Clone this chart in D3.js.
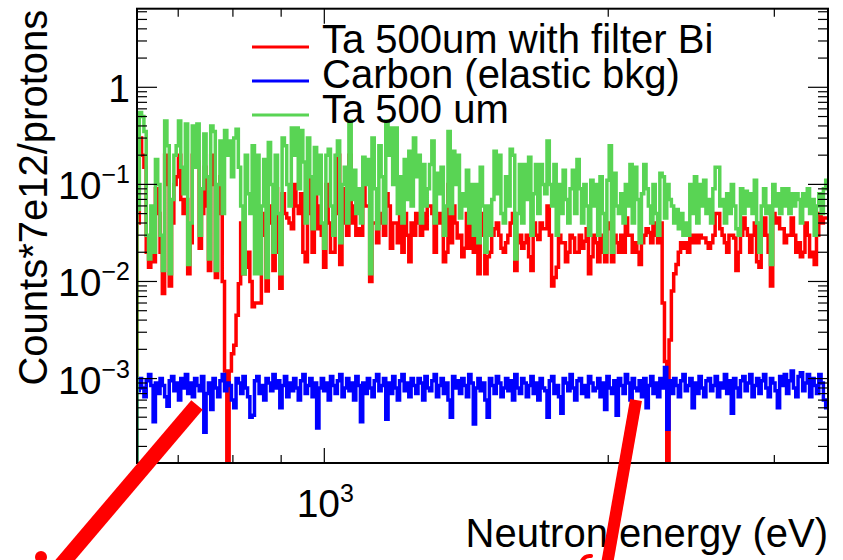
<!DOCTYPE html>
<html>
<head>
<meta charset="utf-8">
<script src="https://cdn.jsdelivr.net/npm/d3@7/dist/d3.min.js"></script>
<style>
  html, body { margin: 0; padding: 0; background: #ffffff; }
  svg { display: block; }
  text { font-family: "Liberation Sans", Arial, Helvetica, sans-serif; fill: #000; }
</style>
</head>
<body>
<div id="chart"></div>
<script>
// ---------------- DATA ----------------
const energyRange = [633, 3420];           // eV, histogram range shown
const yRange = [1.35e-4, 6.45];            // counts axis range

const seriesNames = ["Ta 500um with filter Bi", "Carbon (elastic bkg)", "Ta 500 um"];

// Ta 500um with filter Bi (red), 300 log-spaced bins
const taBi = [
  0.04,0.3,0.2,0.15,0.02,0.014,0.03,0.016,0.09,0.05,
  0.02,0.0075,0.2,0.1,0.009,0.04,0.1,0.12,0.2,0.07,
  0.05,0.07,0.012,0.025,0.2,0.17,0.17,0.022,0.05,0.15,
  0.06,0.013,0.2,0.1,0.011,0.05,0.12,0.01,0.0012,0,
  0.0012,0.0018,0.0022,0.0045,0.0095,0.04,0.012,0.014,0.02,0.01,
  0.0055,0.006,0.006,0.006,0.03,0.05,0.008,0.06,0.04,0.013,
  0.09,0.02,0.0085,0.08,0.05,0.045,0.04,0.035,0.1,0.06,
  0.05,0.08,0.02,0.016,0.12,0.05,0.02,0.1,0.035,0.06,
  0.03,0.014,0.1,0.04,0.02,0.02,0.05,0.2,0.015,0.04,
  0.09,0.03,0.2,0.04,0.06,0.03,0.035,0.03,0.1,0.06,
  0.06,0.01,0.04,0.04,0.025,0.04,0.05,0.03,0.08,0.06,
  0.022,0.04,0.04,0.025,0.06,0.02,0.05,0.03,0.016,0.04,
  0.03,0.05,0.04,0.03,0.05,0.035,0.06,0.06,0.05,0.02,
  0.05,0.04,0.05,0.016,0.02,0.1,0.025,0.06,0.04,0.028,
  0.03,0.018,0.022,0.05,0.022,0.04,0.02,0.04,0.012,0.05,
  0.03,0.012,0.018,0.02,0.03,0.035,0.04,0.03,0.022,0.02,
  0.025,0.03,0.04,0.05,0.013,0.025,0.03,0.022,0.025,0.03,
  0.018,0.013,0.04,0.03,0.027,0.04,0.035,0.035,0.06,0.03,
  0.009,0.011,0.014,0.03,0.025,0.025,0.016,0.02,0.03,0.028,
  0.02,0.02,0.03,0.022,0.026,0.035,0.012,0.018,0.03,0.025,
  0.016,0.03,0.02,0.016,0.035,0.04,0.016,0.03,0.025,0.02,
  0.03,0.02,0.045,0.03,0.03,0.02,0.025,0.02,0.015,0.025,
  0.03,0.035,0.032,0.025,0.04,0.03,0.025,0.04,0.006,0.0015,
  0,0.0025,0.008,0.012,0.015,0.02,0.025,0.022,0.025,0.02,
  0.03,0.025,0.03,0.025,0.03,0.028,0.028,0.025,0.022,0.025,
  0.03,0.05,0.05,0.035,0.03,0.025,0.02,0.03,0.03,0.028,
  0.013,0.02,0.03,0.045,0.035,0.03,0.02,0.03,0.04,0.016,
  0.014,0.03,0.045,0.03,0.02,0.009,0.05,0.04,0.045,0.035,
  0.035,0.025,0.03,0.03,0.045,0.03,0.02,0.025,0.018,0.02,
  0.04,0.03,0.018,0.02,0.015,0.03,0.05,0.04,0.045,0.045
];

// Carbon (elastic bkg) (blue)
const carbon = [
  7.5e-4,10e-4,8e-4,6.5e-4,9.5e-4,11e-4,8.5e-4,3.6e-4,9e-4,7e-4,
  10e-4,8.5e-4,6.5e-4,5.2e-4,9.5e-4,10.5e-4,7.5e-4,9e-4,6e-4,10e-4,
  8e-4,11e-4,7e-4,9e-4,6.5e-4,10e-4,8.5e-4,7.5e-4,10.5e-4,2.8e-4,
  7e-4,9e-4,4.8e-4,10e-4,8e-4,6.5e-4,9.5e-4,11e-4,7.5e-4,9e-4,
  8.5e-4,6e-4,5e-4,10e-4,9e-4,7e-4,10.5e-4,8e-4,6.5e-4,4e-4,
  4.2e-4,9.5e-4,10.5e-4,7e-4,8.5e-4,6e-4,10e-4,9e-4,7.5e-4,11e-4,
  8e-4,9.5e-4,5e-4,8.5e-4,10.5e-4,6.5e-4,9e-4,7.5e-4,10e-4,8e-4,
  6e-4,9.5e-4,11e-4,7e-4,8.5e-4,10e-4,6.5e-4,9e-4,3.1e-4,8e-4,
  10e-4,7.5e-4,9e-4,6e-4,10.5e-4,8.5e-4,7e-4,9.5e-4,11e-4,6.5e-4,
  8e-4,10e-4,7.5e-4,9e-4,6e-4,10.5e-4,8.5e-4,3.6e-4,9e-4,7e-4,
  10e-4,8e-4,6.5e-4,9.5e-4,11e-4,7.5e-4,8.5e-4,10e-4,3.8e-4,9e-4,
  7e-4,10.5e-4,8e-4,6e-4,9.5e-4,11e-4,7.5e-4,9e-4,6.5e-4,10e-4,
  8.5e-4,7e-4,10e-4,9e-4,6e-4,10.5e-4,8e-4,7.5e-4,9.5e-4,11e-4,
  6.5e-4,8.5e-4,10e-4,7e-4,9e-4,6e-4,4e-4,10.5e-4,8e-4,9.5e-4,
  7e-4,10e-4,8.5e-4,6.5e-4,11e-4,9e-4,3.4e-4,8e-4,10e-4,7.5e-4,
  9e-4,6e-4,4e-4,10e-4,8.5e-4,7e-4,10.5e-4,9e-4,6.5e-4,8e-4,
  10e-4,7.5e-4,9.5e-4,6e-4,11e-4,8e-4,7e-4,10e-4,9e-4,6.5e-4,
  8.5e-4,10.5e-4,7e-4,9e-4,6e-4,10e-4,8e-4,7.5e-4,4e-4,9.5e-4,
  10.5e-4,7e-4,8.5e-4,6.5e-4,4.4e-4,10e-4,9e-4,7.5e-4,11e-4,8e-4,
  6e-4,9.5e-4,10e-4,7e-4,8.5e-4,6.5e-4,10.5e-4,9e-4,7.5e-4,8e-4,
  10e-4,6.5e-4,9e-4,4.8e-4,10.5e-4,8e-4,7e-4,9.5e-4,4.2e-4,10e-4,
  8.5e-4,7e-4,11e-4,9e-4,6e-4,10e-4,8e-4,7.5e-4,9.5e-4,6.5e-4,
  10e-4,5e-4,8.5e-4,10.5e-4,7e-4,9e-4,6.5e-4,10e-4,8e-4,13e-4,
  3e-4,9.5e-4,7e-4,10e-4,8.5e-4,6.5e-4,9.5e-4,11e-4,7.5e-4,8.5e-4,
  10e-4,5e-4,9e-4,7e-4,10.5e-4,8e-4,6.5e-4,9.5e-4,10e-4,7.5e-4,
  8.5e-4,10.5e-4,6.5e-4,9e-4,8e-4,11e-4,7e-4,9.5e-4,4.4e-4,10e-4,
  8e-4,6.5e-4,9.5e-4,10.5e-4,7.5e-4,9e-4,11e-4,6.5e-4,8.5e-4,10e-4,
  7e-4,9.5e-4,11e-4,8e-4,6.5e-4,10e-4,9e-4,7.5e-4,5e-4,10.5e-4,
  8.5e-4,11e-4,7e-4,9.5e-4,12e-4,8e-4,6.5e-4,10.5e-4,11.5e-4,7.5e-4,
  9e-4,11e-4,6.5e-4,10e-4,8.5e-4,7e-4,11e-4,9e-4,6e-4,5e-4
];

// Ta 500 um (green)
const ta500 = [
  0.055,0.55,0.5,0.35,0.03,0.017,0.06,0.02,0.18,0.1,
  0.03,0.013,0.45,0.25,0.012,0.07,0.2,0.25,0.45,0.15,
  0.08,0.42,0.015,0.04,0.4,0.15,0.42,0.03,0.09,0.33,
  0.12,0.017,0.4,0.35,0.013,0.1,0.28,0.05,0.36,0.2,
  0.28,0.12,0.3,0.37,0.15,0.06,0.012,0.2,0.08,0.05,
  0.25,0.012,0.2,0.012,0.06,0.18,0.011,0.27,0.1,0.02,
  0.2,0.05,0.012,0.3,0.25,0.1,0.06,0.38,0.2,0.38,
  0.09,0.36,0.17,0.04,0.3,0.12,0.035,0.24,0.08,0.2,
  0.04,0.022,0.2,0.23,0.06,0.03,0.2,0.28,0.025,0.1,
  0.15,0.04,0.45,0.07,0.14,0.05,0.09,0.04,0.19,0.1,
  0.18,0.012,0.3,0.09,0.035,0.25,0.12,0.04,0.45,0.2,
  0.38,0.1,0.38,0.05,0.12,0.04,0.18,0.07,0.22,0.06,
  0.3,0.12,0.2,0.04,0.16,0.06,0.09,0.16,0.28,0.04,
  0.13,0.08,0.15,0.03,0.06,0.35,0.05,0.22,0.1,0.2,
  0.045,0.08,0.06,0.14,0.04,0.1,0.03,0.1,0.025,0.15,
  0.06,0.02,0.06,0.03,0.07,0.22,0.08,0.2,0.05,0.04,
  0.12,0.06,0.23,0.2,0.017,0.05,0.16,0.04,0.16,0.07,
  0.19,0.03,0.08,0.16,0.05,0.16,0.1,0.08,0.28,0.1,
  0.06,0.16,0.03,0.1,0.05,0.14,0.07,0.04,0.09,0.14,
  0.05,0.18,0.09,0.04,0.1,0.06,0.03,0.11,0.06,0.1,
  0.03,0.12,0.05,0.02,0.11,0.25,0.02,0.13,0.06,0.05,
  0.08,0.04,0.1,0.06,0.16,0.04,0.15,0.07,0.025,0.08,
  0.16,0.09,0.06,0.04,0.1,0.05,0.03,0.13,0.12,0.045,
  0.1,0.07,0.06,0.04,0.055,0.035,0.05,0.03,0.04,0.03,
  0.1,0.05,0.12,0.04,0.1,0.06,0.11,0.05,0.07,0.04,
  0.09,0.15,0.15,0.06,0.07,0.04,0.08,0.05,0.1,0.06,
  0.035,0.03,0.09,0.05,0.085,0.06,0.08,0.05,0.11,0.04,
  0.02,0.06,0.09,0.05,0.06,0.015,0.1,0.06,0.08,0.05,
  0.09,0.06,0.09,0.05,0.08,0.06,0.08,0.07,0.04,0.08,
  0.06,0.09,0.05,0.07,0.03,0.06,0.08,0.05,0.09,0.11
];

const yMajorTicks = [1e-3, 1e-2, 1e-1, 1];
const yTickLabels = [["10", "\u22123"], ["10", "\u22122"], ["10", "\u22121"], ["1", ""]];
const xMajorTicks = [1000];
const xTickLabels = [["10", "3"]];
const xMinorTicks = [700, 800, 900, 2000, 3000];
const xTitle = "Neutron energy (eV)";
const yTitle = "Counts*7e12/protons";

// ---------------- DRAW ----------------
const W = 843, H = 560;
const frame = { left: 137, right: 828, top: 8.7, bottom: 463 };
const colors = { taBi: "#ff0000", carbon: "#0000ff", ta500: "#59d454" };

const svg = d3.select("#chart").append("svg")
  .attr("width", W).attr("height", H)
  .style("background", "#fff");

const x = d3.scaleLog().domain(energyRange).range([frame.left, frame.right]);
const y = d3.scaleLog().domain(yRange).range([frame.bottom, frame.top]);

svg.append("defs").append("clipPath").attr("id", "plotclip")
  .append("rect")
  .attr("x", frame.left).attr("y", frame.top)
  .attr("width", frame.right - frame.left)
  .attr("height", frame.bottom - frame.top);

// bin edges (uniform in log E over the range)
const nBins = ta500.length;
const lo = Math.log(energyRange[0]), hi = Math.log(energyRange[1]);
const edges = d3.range(nBins + 1).map(i => Math.exp(lo + (hi - lo) * i / nBins));

function stepPoints(vals) {
  const pts = [[edges[0], 0]];
  vals.forEach((v, i) => { pts.push([edges[i], v]); pts.push([edges[i + 1], v]); });
  return pts;
}
const line = d3.line()
  .x(d => x(d[0]))
  .y(d => d[1] > 0 ? y(d[1]) : frame.bottom + 20);

const plot = svg.append("g").attr("clip-path", "url(#plotclip)");
[[taBi, colors.taBi], [carbon, colors.carbon], [ta500, colors.ta500]].forEach(([vals, c]) => {
  plot.append("path")
    .attr("d", line(stepPoints(vals)))
    .attr("fill", "none")
    .attr("stroke", c)
    .attr("stroke-width", 3.5)
    .attr("stroke-linejoin", "miter");
});

// ticks
const tickG = svg.append("g").attr("stroke", "#000").attr("stroke-width", 1.2);
const yMinor = [];
for (let e = -4; e <= 0; e++) for (let k = 2; k <= 9; k++) {
  const v = k * Math.pow(10, e);
  if (v >= yRange[0] && v <= yRange[1]) yMinor.push(v);
}
yMinor.forEach(v => {
  tickG.append("line").attr("x1", frame.left).attr("x2", frame.left + 10).attr("y1", y(v)).attr("y2", y(v));
  tickG.append("line").attr("x1", frame.right).attr("x2", frame.right - 10).attr("y1", y(v)).attr("y2", y(v));
});
yMajorTicks.forEach(v => {
  tickG.append("line").attr("x1", frame.left).attr("x2", frame.left + 20).attr("y1", y(v)).attr("y2", y(v));
  tickG.append("line").attr("x1", frame.right).attr("x2", frame.right - 20).attr("y1", y(v)).attr("y2", y(v));
});
xMinorTicks.forEach(v => {
  tickG.append("line").attr("x1", x(v)).attr("x2", x(v)).attr("y1", frame.bottom).attr("y2", frame.bottom - 8);
  tickG.append("line").attr("x1", x(v)).attr("x2", x(v)).attr("y1", frame.top).attr("y2", frame.top + 8);
});
xMajorTicks.forEach(v => {
  tickG.append("line").attr("x1", x(v)).attr("x2", x(v)).attr("y1", frame.bottom).attr("y2", frame.bottom - 15);
  tickG.append("line").attr("x1", x(v)).attr("x2", x(v)).attr("y1", frame.top).attr("y2", frame.top + 15);
});

// frame
svg.append("rect")
  .attr("x", frame.left).attr("y", frame.top)
  .attr("width", frame.right - frame.left).attr("height", frame.bottom - frame.top)
  .attr("fill", "none").attr("stroke", "#000").attr("stroke-width", 2);

// y tick labels
yMajorTicks.forEach((v, i) => {
  const t = svg.append("text")
    .attr("x", 130).attr("y", y(v) + 15)
    .attr("text-anchor", "end")
    .style("font-size", "39px");
  t.append("tspan").text(yTickLabels[i][0]);
  if (yTickLabels[i][1]) t.append("tspan").attr("dy", -16).style("font-size", "25px").text(yTickLabels[i][1]);
});
// x tick labels
xMajorTicks.forEach((v, i) => {
  const t = svg.append("text")
    .attr("x", x(v) + 1).attr("y", 517)
    .attr("text-anchor", "middle")
    .style("font-size", "39px");
  t.append("tspan").text(xTickLabels[i][0]);
  t.append("tspan").attr("dy", -15).style("font-size", "25px").text(xTickLabels[i][1]);
});

// axis titles
svg.append("text")
  .attr("x", frame.right).attr("y", 547)
  .attr("text-anchor", "end")
  .style("font-size", "40px")
  .text(xTitle);
svg.append("text")
  .attr("transform", `translate(47,${frame.top + 1}) rotate(-90)`)
  .attr("text-anchor", "end")
  .style("font-size", "40px")
  .text(yTitle);

// legend
const legColors = [colors.taBi, colors.carbon, colors.ta500];
seriesNames.forEach((name, i) => {
  const ly = 47 + i * 34;
  svg.append("line")
    .attr("x1", 252).attr("x2", 309).attr("y1", ly).attr("y2", ly)
    .attr("stroke", legColors[i]).attr("stroke-width", 3);
  svg.append("text")
    .attr("x", 322).attr("y", 53 + i * 35)
    .style("font-size", "40px")
    .text(name);
});

// hand-drawn red annotation strokes
const ann = svg.append("g").attr("stroke", "#ff0000").attr("fill", "none");
ann.append("line").attr("x1", 197).attr("y1", 405).attr("x2", 55).attr("y2", 572)
  .attr("stroke-width", 15);
ann.append("line").attr("x1", 636).attr("y1", 400).attr("x2", 606).attr("y2", 570)
  .attr("stroke-width", 12);
ann.append("circle").attr("cx", 41).attr("cy", 557).attr("r", 6)
  .attr("fill", "#ff0000").attr("stroke", "none");
ann.append("path").attr("d", "M581,563 Q584,555 591,556").attr("stroke-width", 4)
  .attr("stroke-linecap", "round");
</script>
</body>
</html>
